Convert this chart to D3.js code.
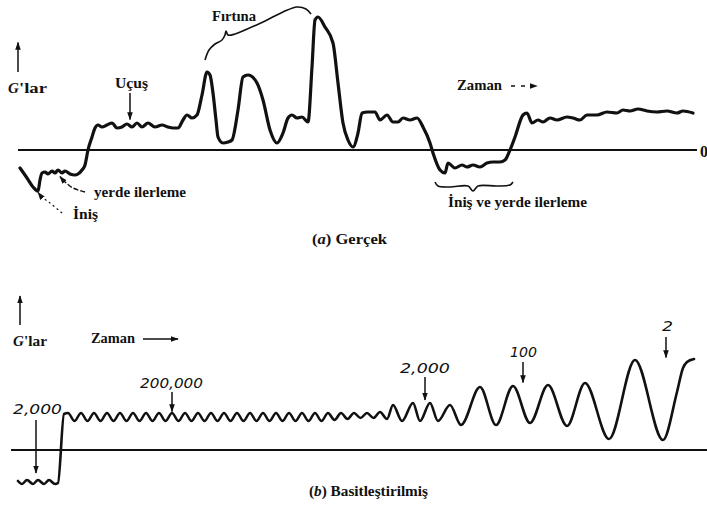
<!DOCTYPE html>
<html>
<head>
<meta charset="utf-8">
<script src="https://cdn.jsdelivr.net/npm/d3@7"></script>
<style>
  body { margin: 0; background: #fff; }
  svg { display: block; }
  .serif { font-family: "Liberation Serif", "DejaVu Serif", serif; font-weight: bold; fill: #111; }
  .num { font-family: "DejaVu Sans", "Liberation Sans", sans-serif; font-style: italic; fill: #111; }
</style>
</head>
<body>
<svg id="chart" width="707" height="507"></svg>
<script>
// (a) measured load history: [time, G]
const actualSeries = [
  [0.2,-0.72],[0.9,-1.12],[1.5,-1.48],[2.0,-1.64],[2.2,-1.20],[2.4,-0.92],[2.7,-0.88],[3.0,-0.96],
  [3.4,-0.84],[3.7,-0.92],[4.0,-0.80],[4.4,-0.92],[4.7,-0.84],[5.2,-0.96],[5.7,-1.00],[6.0,-0.96],
  [6.4,-0.80],[6.7,-0.60],[7.0,0.00],[7.4,0.52],[7.7,0.88],[8.0,1.00],[8.4,0.92],[8.9,1.00],
  [9.4,1.08],[9.9,0.88],[10.4,0.92],[10.9,1.04],[11.4,0.92],[11.9,1.08],[12.4,0.92],[13.0,1.08],
  [13.7,0.92],[14.4,1.00],[15.0,0.92],[15.5,0.88],[16.0,0.88],[16.5,1.20],[16.9,1.40],[17.4,1.28],
  [17.9,1.40],[18.4,2.20],[18.9,3.12],[19.2,3.00],[19.5,2.28],[19.8,1.20],[20.0,0.52],[20.5,0.28],
  [21.0,0.32],[21.4,0.40],[22.0,1.60],[22.5,2.92],[23.0,3.00],[23.9,2.68],[24.5,2.00],[25.2,0.80],
  [25.9,0.28],[26.5,0.68],[27.0,1.28],[27.4,1.40],[27.9,1.28],[28.4,1.32],[29.0,1.12],[29.4,3.32],
  [29.7,5.20],[30.0,5.32],[30.7,4.92],[31.5,4.28],[32.0,2.68],[32.5,1.08],[33.0,0.40],[33.5,0.12],
  [34.0,0.68],[34.4,1.48],[35.0,1.52],[35.7,1.52],[36.2,1.20],[36.9,1.40],[37.5,1.12],[38.0,1.12],
  [38.5,1.28],[39.2,1.20],[39.9,1.28],[40.5,0.92],[41.2,0.28],[41.5,-0.12],[42.2,-0.80],[42.7,-0.92],
  [43.0,-0.52],[43.7,-0.72],[44.4,-0.60],[44.9,-0.68],[45.5,-0.60],[46.2,-0.68],[46.9,-0.52],[47.5,-0.48],
  [48.2,-0.48],[48.7,-0.40],[49.2,0.00],[49.7,0.52],[50.5,1.40],[50.9,1.48],[51.4,1.08],[52.0,1.20],
  [52.5,1.12],[53.2,1.28],[53.9,1.20],[54.9,1.32],[55.5,1.28],[56.2,1.20],[56.9,1.40],[57.9,1.40],
  [58.9,1.52],[59.9,1.48],[60.5,1.60],[61.2,1.56],[62.0,1.64],[62.9,1.56],[63.9,1.52],[64.9,1.56],
  [65.9,1.48],[66.5,1.56],[67.5,1.48]
];

// (b) simplified block history: [time, G] at each crest and trough
const simplifiedSeries = [
  [0.0,-1.24],[0.4,-1.36],[0.9,-1.20],[1.5,-1.36],[2.0,-1.20],[2.6,-1.36],[3.1,-1.20],[3.7,-1.36],
  [4.0,-1.32],[4.6,1.44],[5.0,1.48],
  [5.65,1.16],[6.3,1.48],[6.95,1.16],[7.6,1.48],[8.25,1.16],[8.9,1.48],[9.55,1.16],[10.2,1.48],
  [10.85,1.16],[11.5,1.48],[12.15,1.16],[12.8,1.48],[13.45,1.16],[14.1,1.48],[14.75,1.16],[15.4,1.48],
  [16.05,1.16],[16.7,1.48],[17.35,1.16],[18.0,1.48],[18.65,1.16],[19.3,1.48],[19.95,1.16],[20.6,1.48],
  [21.25,1.16],[21.9,1.48],[22.55,1.16],[23.2,1.48],[23.85,1.16],[24.5,1.48],[25.15,1.16],[25.8,1.48],
  [26.45,1.16],[27.1,1.48],[27.75,1.16],[28.4,1.48],[29.05,1.16],[29.7,1.48],[30.35,1.16],[31.0,1.48],
  [31.65,1.20],[32.3,1.48],[32.95,1.24],[33.6,1.48],[34.25,1.28],[34.9,1.48],[35.55,1.28],[36.2,1.52],
  [36.9,1.24],[37.5,1.80],[38.4,1.16],[39.5,1.88],[40.2,1.16],[41.2,1.88],[42.0,1.16],[43.2,1.80],
  [44.3,1.00],[46.2,2.52],[47.8,1.00],[49.5,2.56],[51.2,1.08],[53.0,2.60],[54.9,0.96],[56.7,2.68],
  [59.1,0.44],[61.7,3.60],[64.5,0.40],[65.9,2.32],[66.5,3.28],[66.9,3.52],[67.6,3.64]
];

// zero-G reference lines: [start time, end time]
const zeroA = [0, 67.9];
const zeroB = [-0.7, 68.9];

// braces grouping phases of (a): [time, G]
const stormBrace = [
  [18.7,3.60],[19.1,4.00],[19.7,4.24],[20.4,4.40],[20.7,4.60],[20.8,4.76],[21.0,4.60],[21.7,4.64],
  [22.7,4.80],[24.5,5.12],[26.5,5.52],[27.9,5.72],[28.8,5.64],[29.3,5.44]
];
const landingBrace = [
  [41.7,-1.28],[42.0,-1.44],[43.2,-1.48],[45.0,-1.44],[45.5,-1.64],[46.0,-1.44],[47.9,-1.44],
  [49.2,-1.40],[49.5,-1.28]
];
// pointer curves for (a), running from label to curve
const taxiPointer = [[6.7,-1.68],[5.5,-1.52],[4.7,-1.28],[4.2,-1.06]];
const touchdownPointer = [[4.4,-2.52],[3.2,-2.12],[2.4,-1.88],[2.0,-1.70]];

// cycle-count labels of (b): text, time, arrow top G, arrow tip G
const cycleLabels = ["2,000", "200,000", "2,000", "100", "2"];
const cycleArrows = [
  [1.8, 1.20, -0.92],
  [15.4, 2.32, 1.54],
  [40.7, 2.92, 2.00],
  [50.5, 3.52, 2.70],
  [64.8, 4.52, 3.70]
];

const svg = d3.select("#chart");
svg.append("rect").attr("width", 707).attr("height", 507).attr("fill", "#fff");

const x = d3.scaleLinear().domain([0, 68]).range([18, 698]);
const yA = d3.scaleLinear().domain([0, 1]).range([150, 125]);
const yB = d3.scaleLinear().domain([0, 1]).range([450, 425]);

const defs = svg.append("defs");
defs.append("marker")
  .attr("id", "head").attr("viewBox", "0 0 10 10")
  .attr("refX", 9).attr("refY", 5)
  .attr("markerWidth", 8).attr("markerHeight", 8)
  .attr("markerUnits", "userSpaceOnUse")
  .attr("orient", "auto")
  .append("path").attr("d", "M0,1.5 L10,5 L0,8.5 Z").attr("fill", "#111");

const ink = "#111";
const smoothA = d3.line().x(d => x(d[0])).y(d => yA(d[1])).curve(d3.curveMonotoneX);
const smoothB = d3.line().x(d => x(d[0])).y(d => yB(d[1])).curve(d3.curveMonotoneX);
const freeA = d3.line().x(d => x(d[0])).y(d => yA(d[1])).curve(d3.curveCatmullRom.alpha(0.5));

function arrow(yS, t0, g0, t1, g1, dash) {
  svg.append("line")
    .attr("x1", x(t0)).attr("y1", yS(g0)).attr("x2", x(t1)).attr("y2", yS(g1))
    .attr("stroke", ink).attr("stroke-width", 1.5)
    .attr("stroke-dasharray", dash || null)
    .attr("marker-end", "url(#head)");
}
function label(txt, px, py, cls, size, len, italic) {
  const t = svg.append("text").attr("class", cls).attr("x", px).attr("y", py)
    .attr("font-size", size).text(txt);
  if (len) t.attr("textLength", len).attr("lengthAdjust", "spacingAndGlyphs");
  if (italic) t.attr("font-style", "italic");
  return t;
}

// ---------- (a) Gerçek ----------
svg.append("line")
  .attr("x1", x(zeroA[0])).attr("x2", x(zeroA[1]))
  .attr("y1", yA(0)).attr("y2", yA(0))
  .attr("stroke", ink).attr("stroke-width", 1.8);
label("0", 700, 157, "serif", 16);

svg.append("path").datum(actualSeries).attr("d", smoothA)
  .attr("fill", "none").attr("stroke", ink).attr("stroke-width", 3.2)
  .attr("stroke-linejoin", "round").attr("stroke-linecap", "round");

svg.append("path").datum(stormBrace).attr("d", freeA)
  .attr("fill", "none").attr("stroke", ink).attr("stroke-width", 1.6);
svg.append("path").datum(landingBrace).attr("d", freeA)
  .attr("fill", "none").attr("stroke", ink).attr("stroke-width", 1.6);

svg.append("path").datum(taxiPointer).attr("d", freeA)
  .attr("fill", "none").attr("stroke", ink).attr("stroke-width", 1.4)
  .attr("stroke-dasharray", "5,2").attr("marker-end", "url(#head)");
svg.append("path").datum(touchdownPointer).attr("d", freeA)
  .attr("fill", "none").attr("stroke", ink).attr("stroke-width", 1.2)
  .attr("stroke-dasharray", "2,3").attr("marker-end", "url(#head)");

// G axis arrow and time arrow
arrow(yA, 0, 3.12, 0, 4.30);
arrow(yA, 11.2, 2.28, 11.2, 1.22);
arrow(yA, 49.3, 2.56, 51.9, 2.56, "4,6");

label("G", 8, 93, "serif", 15, null, true);
label("'lar", 19, 93, "serif", 15, 28);
label("Uçuş", 115, 88, "serif", 15, 33);
label("Fırtına", 212, 21, "serif", 15, 44);
label("Zaman", 457, 90, "serif", 15, 45);
label("yerde ilerleme", 94, 197, "serif", 15, 92);
label("İniş", 73, 219, "serif", 15, 25);
label("İniş ve yerde ilerleme", 448, 207, "serif", 15, 139);
const capA = label("", 312, 244, "serif", 15, 75);
capA.append("tspan").text("(");
capA.append("tspan").attr("font-style", "italic").text("a");
capA.append("tspan").text(") Gerçek");

// ---------- (b) Basitleştirilmiş ----------
svg.append("line")
  .attr("x1", x(zeroB[0])).attr("x2", x(zeroB[1]))
  .attr("y1", yB(0)).attr("y2", yB(0))
  .attr("stroke", ink).attr("stroke-width", 1.8);

svg.append("path").datum(simplifiedSeries).attr("d", smoothB)
  .attr("fill", "none").attr("stroke", ink).attr("stroke-width", 2.6)
  .attr("stroke-linejoin", "round").attr("stroke-linecap", "round");

arrow(yB, 0.2, 5.0, 0.2, 6.16);
arrow(yB, 12.5, 4.44, 16.0, 4.44);
label("G", 13, 346, "serif", 15, null, true);
label("'lar", 24, 346, "serif", 15, 23);
label("Zaman", 91, 343, "serif", 15, 44);

const labelPos = [[13, 414, 49], [140, 388, 63], [400, 373, 50], [510, 357, 27], [662, 331, 11]];
cycleArrows.forEach((a, i) => {
  arrow(yB, a[0], a[1], a[0], a[2]);
  const p = labelPos[i];
  label(cycleLabels[i], p[0], p[1], "num", 14, p[2]);
});

const capB = label("", 309, 496, "serif", 15, 119);
capB.append("tspan").text("(");
capB.append("tspan").attr("font-style", "italic").text("b");
capB.append("tspan").text(") Basitleştirilmiş");
</script>
</body>
</html>
